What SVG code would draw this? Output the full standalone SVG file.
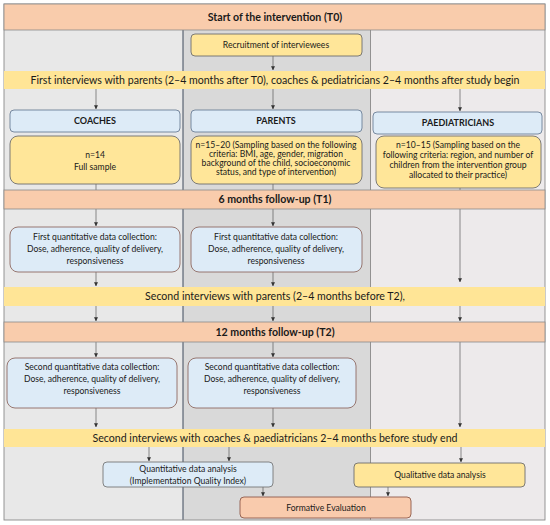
<svg xmlns="http://www.w3.org/2000/svg" width="550" height="525" viewBox="0 0 550 525">
<defs>
<marker id="ah" viewBox="0 0 6 6" refX="5.5" refY="3" markerWidth="4" markerHeight="4" orient="auto" markerUnits="userSpaceOnUse">
<path d="M0,0 L6,3 L0,6 z" fill="#333"/>
</marker>
</defs>
<style>
text{font-family:Lato,"Liberation Sans",sans-serif;fill:#1a1a1a;text-anchor:middle}
.hdr{fill:#F9CCAC;stroke:#8a8a8a;stroke-width:0.8}
.band{fill:#FFE596}
.ht{font-weight:bold;font-size:10.6px}
.bt{font-size:10.6px}
.yb{fill:#FFE699;stroke:#6e6e6e;stroke-width:0.9}
.bb{fill:#DDEBF7;stroke:#6c7f96;stroke-width:0.9}
.qb{fill:#DDEBF7;stroke:#8f6a62;stroke-width:0.9}
.gb{fill:#DDEBF7;stroke:#777;stroke-width:0.9}
.ob{fill:#F9CBAD;stroke:#8f5a4a;stroke-width:0.9}
.lt{font-weight:bold;font-size:9px}
.st{font-size:8.6px}
.cn line{stroke:#444;stroke-width:0.6;marker-end:url(#ah)}
.cn line.p{marker-end:none}
</style>
<g id="background">
<rect x="4" y="4" width="179" height="516" fill="#E8E8E8"/>
<rect x="183" y="4" width="187" height="516" fill="#D9D9D9"/>
<rect x="370" y="4" width="175" height="516" fill="#EDEAEB"/>
<line x1="183" y1="30" x2="183" y2="520" stroke="#3f4a5c" stroke-width="1"/>
<line x1="370.5" y1="30" x2="370.5" y2="520" stroke="#7a7a7a" stroke-width="0.8"/>
<rect x="4" y="4" width="541" height="516" fill="none" stroke="#8a8a8a" stroke-width="0.9"/>
</g>
<g class="cn" id="connectors">
<line x1="273" y1="56" x2="273" y2="70"/>
<line x1="96" y1="89" x2="96" y2="109"/>
<line x1="273" y1="89" x2="273" y2="109"/>
<line x1="460" y1="89" x2="460" y2="111"/>
<line class="p" x1="96" y1="184" x2="96" y2="190"/>
<line class="p" x1="273" y1="184" x2="273" y2="190"/>
<line class="p" x1="460" y1="188" x2="460" y2="190"/>
<line x1="96" y1="209" x2="96" y2="226"/>
<line x1="273" y1="209" x2="273" y2="226"/>
<line x1="460" y1="209" x2="460" y2="282"/>
<line x1="96" y1="272" x2="96" y2="286"/>
<line x1="273" y1="272" x2="273" y2="286"/>
<line x1="96" y1="306" x2="96" y2="321"/>
<line x1="273" y1="306" x2="273" y2="321"/>
<line x1="460" y1="306" x2="460" y2="321"/>
<line x1="96" y1="342" x2="96" y2="357"/>
<line x1="273" y1="342" x2="273" y2="357"/>
<line x1="460" y1="342" x2="460" y2="427"/>
<line x1="96" y1="408" x2="96" y2="427"/>
<line x1="273" y1="408" x2="273" y2="427"/>
<line x1="149" y1="447" x2="149" y2="461"/>
<line x1="229" y1="447" x2="229" y2="461"/>
<line x1="461" y1="447" x2="461" y2="462"/>
<line x1="263" y1="487" x2="263" y2="496"/>
<line x1="388" y1="487" x2="388" y2="496"/>
</g>
<g id="t0">
<rect class="hdr" x="4" y="4" width="541" height="26"/>
<text class="ht" x="275" y="21">Start of the intervention (T0)</text>
</g>
<g id="recruitment">
<rect class="yb" x="191" y="34" width="171" height="22" rx="4"/>
<text class="st" x="276" y="48">Recruitment of interviewees</text>
</g>
<g id="band1">
<rect class="band" x="4" y="71" width="541" height="18"/>
<text class="bt" x="275" y="84">First interviews with parents (2–4 months after T0), coaches &amp; pediatricians 2–4 months after study begin</text>
</g>
<g id="coaches">
<rect class="bb" x="10" y="110" width="170" height="22" rx="4"/>
<text class="lt" x="95" y="124">COACHES</text>
</g>
<g id="parents">
<rect class="bb" x="191" y="110" width="171" height="22" rx="4"/>
<text class="lt" x="276" y="124">PARENTS</text>
</g>
<g id="paediatricians">
<rect class="bb" x="373" y="112" width="169" height="22" rx="4"/>
<text class="lt" x="458" y="126">PAEDIATRICIANS</text>
</g>
<g id="coaches-sample">
<rect class="yb" x="10" y="136" width="170" height="48" rx="8"/>
<text class="st" x="95" y="158">n=14</text>
<text class="st" x="95" y="170">Full sample</text>
</g>
<g id="parents-sample">
<rect class="yb" x="191" y="136" width="171" height="48" rx="8"/>
<text class="st" x="276" y="148">n=15–20 (Sampling based on the following</text>
<text class="st" x="276" y="157">criteria: BMI, age, gender, migration</text>
<text class="st" x="276" y="166">background of the child, socioeconomic</text>
<text class="st" x="276" y="175">status, and type  of  intervention)</text>
</g>
<g id="paed-sample">
<rect class="yb" x="376" y="136" width="165" height="52" rx="8"/>
<text class="st" x="458" y="148">n=10–15 (Sampling based on the</text>
<text class="st" x="458" y="158">following criteria: region, and number of</text>
<text class="st" x="458" y="168">children from the intervention group</text>
<text class="st" x="458" y="178">allocated to their practice)</text>
</g>
<g id="t1">
<rect class="hdr" x="4" y="190" width="541" height="19"/>
<text class="ht" x="275" y="203">6 months follow-up (T1)</text>
</g>
<g id="quant1-coaches">
<rect class="qb" x="10" y="227" width="170" height="45" rx="8"/>
<text class="st" x="95" y="240">First quantitative data collection:</text>
<text class="st" x="95" y="252">Dose, adherence, quality of delivery,</text>
<text class="st" x="95" y="264">responsiveness</text>
</g>
<g id="quant1-parents">
<rect class="qb" x="191" y="227" width="171" height="45" rx="8"/>
<text class="st" x="276" y="240">First quantitative data collection:</text>
<text class="st" x="276" y="252">Dose, adherence, quality of delivery,</text>
<text class="st" x="276" y="264">responsiveness</text>
</g>
<g id="band2">
<rect class="band" x="4" y="287" width="541" height="19"/>
<text class="bt" x="275" y="300">Second interviews with parents (2–4 months before T2),</text>
</g>
<g id="t2">
<rect class="hdr" x="4" y="322" width="541" height="20"/>
<text class="ht" x="275" y="336">12 months follow-up (T2)</text>
</g>
<g id="quant2-coaches">
<rect class="qb" x="7" y="358" width="170" height="50" rx="8"/>
<text class="st" x="92" y="370">Second quantitative data collection:</text>
<text class="st" x="92" y="382">Dose, adherence, quality of delivery,</text>
<text class="st" x="92" y="394">responsiveness</text>
</g>
<g id="quant2-parents">
<rect class="qb" x="188" y="358" width="168" height="50" rx="8"/>
<text class="st" x="272" y="370">Second quantitative data collection:</text>
<text class="st" x="272" y="382">Dose, adherence, quality of delivery,</text>
<text class="st" x="272" y="394">responsiveness</text>
</g>
<g id="band3">
<rect class="band" x="4" y="429" width="541" height="18"/>
<text class="bt" x="275" y="442">Second interviews with coaches &amp; paediatricians 2–4 months before study end</text>
</g>
<g id="quant-analysis">
<rect class="gb" x="103" y="462" width="170" height="25" rx="4"/>
<text class="st" x="188" y="472">Quantitative data analysis</text>
<text class="st" x="188" y="484">(Implementation  Quality Index)</text>
</g>
<g id="qual-analysis">
<rect class="yb" x="354" y="463" width="171" height="24" rx="4"/>
<text class="st" x="440" y="478">Qualitative data analysis</text>
</g>
<g id="formative">
<rect class="ob" x="240" y="497" width="171" height="21" rx="4"/>
<text class="st" x="326" y="511">Formative Evaluation</text>
</g>
</svg>
